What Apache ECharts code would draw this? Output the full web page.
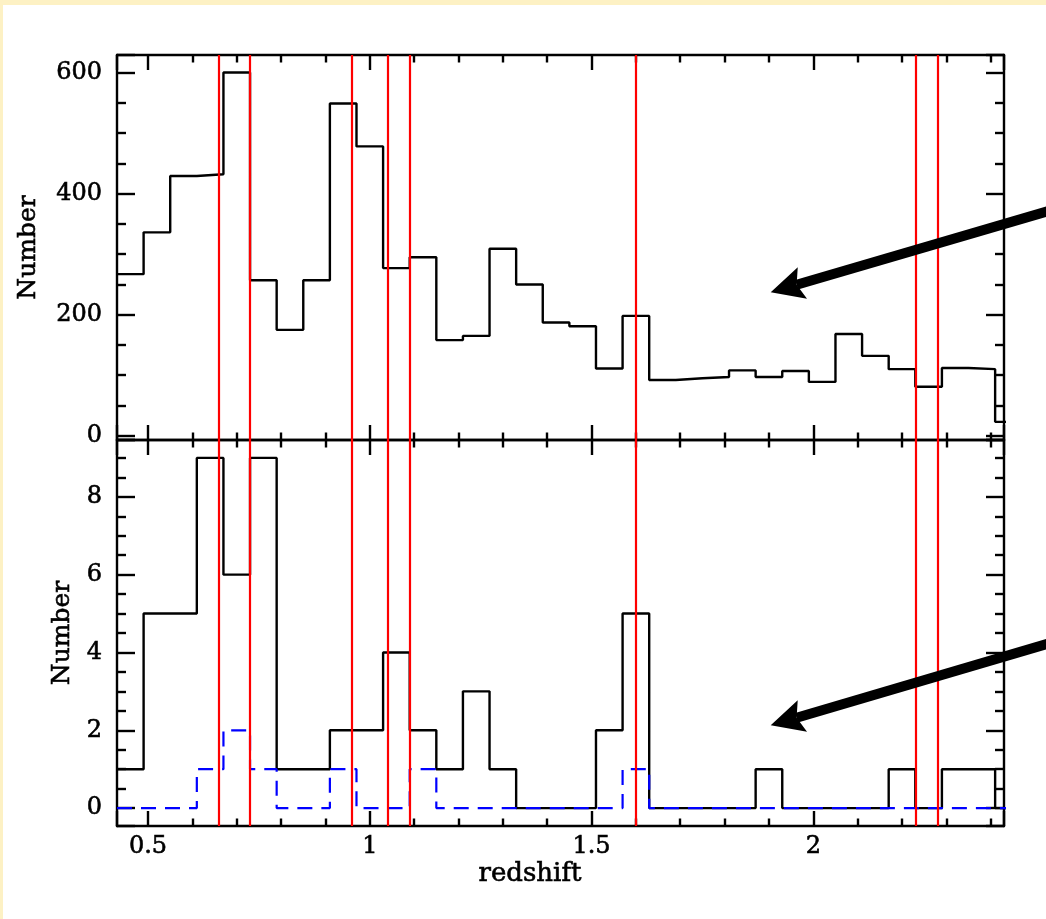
<!DOCTYPE html>
<html><head><meta charset="utf-8">
<script src="https://cdn.jsdelivr.net/npm/echarts@6/dist/echarts.min.js"></script>
<style>html,body{margin:0;padding:0;background:#fff;}#c{width:1046px;height:919px;}</style>
</head><body><div id="c"></div>
<script>
// bin left edges (plus final right edge)
const binEdges = [0.43,0.49,0.55,0.61,0.67,0.73,0.79,0.85,0.91,0.97,1.03,1.09,1.15,1.21,1.27,1.33,1.39,1.45,1.51,1.57,1.63,1.69,1.75,1.81,1.87,1.93,1.99,2.05,2.11,2.17,2.23,2.29,2.35,2.41,2.47];
const topCounts = [267,336,429,432,600,257,175,257,549,478,277,295,158,165,309,250,187,181,111,198,92,95,97,108,97,107,89,168,132,110,81,112,110,23];
const bottomCounts = [1,5,5,9,6,9,1,1,2,2,4,2,1,3,1,0,0,0,2,5,0,0,0,0,1,0,0,0,0,1,0,1,1,0];
const blueCounts = [0,0,0,1,2,1,0,0,1,0,0,1,0,0,0,0,0,0,0,1,0,0,0,0,0,0,0,0,0,0,0,0,0,0];
const lineRedshifts = [0.66,0.733,0.96,1.04,1.09,1.60,2.228,2.28];
// annotation arrows in data units: [tail, tip] per panel
const arrowTails = [[2.524,370],[2.524,4.21]];
const arrowTips = [[1.904,237],[1.904,2.127]];

const FONT = 'DejaVu Serif';
const chart = echarts.init(document.getElementById('c'), null, {renderer:'canvas'});

function stepData(counts){
  const d = counts.map((v,i)=>[binEdges[i], v]);
  d.push([binEdges[counts.length], counts[counts.length-1]]);
  return d;
}
const black = {color:'#000', width:2.4};
const txt = {color:'#000', fontFamily:FONT, textBorderColor:'#000', textBorderWidth:0.6};
function xAx(grid,pos,labels){
  return {type:'value', gridIndex:grid, position:pos, min:0.43, max:2.43, splitNumber:4,
    axisLine:{onZero:false, lineStyle:black},
    axisTick:{inside:true, length:15, lineStyle:black},
    minorTick:{show:true, splitNumber:5, length:7.5, lineStyle:black},
    splitLine:{show:false}, minorSplitLine:{show:false},
    axisLabel:Object.assign({show:labels, margin:9, fontSize:24, showMinLabel:false, showMaxLabel:false}, txt)};
}
function yAx(grid,pos,labels,min,max,split,name,gap){
  const a = {type:'value', gridIndex:grid, position:pos, min:min, max:max, splitNumber:split,
    axisLine:{onZero:false, lineStyle:black},
    axisTick:{inside:true, length:18, lineStyle:black},
    minorTick:{show:true, splitNumber:4, length:9, lineStyle:black},
    splitLine:{show:false}, minorSplitLine:{show:false},
    axisLabel:Object.assign({show:labels, margin:15, fontSize:24, showMinLabel:false, showMaxLabel:false}, txt)};
  if(name){ a.name=name; a.nameLocation='middle'; a.nameRotate=90; a.nameGap=gap;
    a.nameTextStyle=Object.assign({fontSize:25}, txt); }
  return a;
}
function redLines(xi){
  return {type:'line', xAxisIndex:xi, yAxisIndex:xi, data:[], z:5, silent:true,
    markLine:{silent:true, animation:false, symbol:['none','none'], label:{show:false},
      emphasis:{disabled:true},
      lineStyle:{color:'#ff0000', width:2.2, type:'solid'},
      data: lineRedshifts.map(v=>({xAxis:v}))}};
}
chart.setOption({
  backgroundColor:'#ffffff',
  animation:false,
  grid:[{left:117, top:55, width:887, height:385},{left:117, top:440, width:887, height:386}],
  xAxis:[xAx(0,'bottom',false), xAx(0,'top',false), xAx(1,'bottom',true), xAx(1,'top',false)],
  yAxis:[yAx(0,'left',true,-7,629,3,'Number',76), yAx(0,'right',false,-7,629,3),
         yAx(1,'left',true,-0.46,9.46,5,'Number',41), yAx(1,'right',false,-0.46,9.46,5)],
  series:[
    {type:'line', xAxisIndex:0, yAxisIndex:0, step:'end', symbol:'none', data:stepData(topCounts),
      lineStyle:{color:'#000', width:2.4}, z:2, silent:true},
    {type:'line', xAxisIndex:2, yAxisIndex:2, step:'end', symbol:'none', data:stepData(bottomCounts),
      lineStyle:{color:'#000', width:2.4}, z:2, silent:true},
    {type:'line', xAxisIndex:2, yAxisIndex:2, step:'end', symbol:'none', data:stepData(blueCounts),
      lineStyle:{color:'#0000ff', width:2.2, type:[15,9]}, z:3, silent:true},
    redLines(0), redLines(2)
  ]
});

const graphics = [
  {type:'rect', shape:{x:0,y:0,width:1046,height:5}, style:{fill:'#fdf1c4'}, z:200, silent:true},
  {type:'rect', shape:{x:0,y:0,width:3,height:919}, style:{fill:'#fdf1c4'}, z:200, silent:true},
  {type:'text', x:530, y:874, style:{text:'redshift', fontFamily:FONT, fontSize:26, fill:'#000', stroke:'#000', lineWidth:0.6, align:'center', verticalAlign:'middle'}, z:100, silent:true}
];
arrowTips.forEach((tipD,i)=>{
  const tail = chart.convertToPixel({gridIndex:i}, arrowTails[i]);
  const tip = chart.convertToPixel({gridIndex:i}, tipD);
  const dx = tail[0]-tip[0], dy = tail[1]-tip[1];
  const L = Math.hypot(dx,dy); const ux = dx/L, uy = dy/L; // from tip toward tail
  const px = -uy, py = ux;
  const headLen = 33, half = 16.5, notch = 27;
  const base = [tip[0]+ux*headLen, tip[1]+uy*headLen];
  const nt = [tip[0]+ux*notch, tip[1]+uy*notch];
  const farTail = [tail[0]+ux*20, tail[1]+uy*20];
  graphics.push({type:'line', shape:{x1:farTail[0], y1:farTail[1], x2:nt[0], y2:nt[1]}, style:{stroke:'#000', lineWidth:10}, z:100, silent:true});
  graphics.push({type:'polygon', shape:{points:[tip,[base[0]+px*half, base[1]+py*half], nt, [base[0]-px*half, base[1]-py*half]]}, style:{fill:'#000'}, z:100, silent:true});
});
chart.setOption({graphic: graphics});
</script></body></html>
